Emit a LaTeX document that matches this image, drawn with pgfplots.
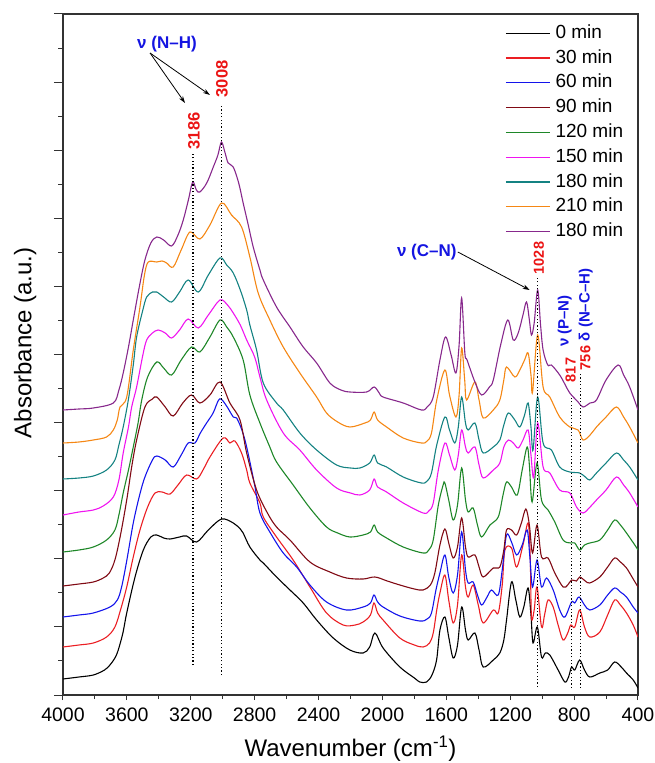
\documentclass[border=0pt]{standalone}
\usepackage{fontspec}
\setmainfont{Liberation Sans}
\usepackage{pgfplots}
\pgfplotsset{compat=1.18}
\usetikzlibrary{arrows.meta}

\definecolor{c0}{RGB}{0,0,0}
\definecolor{c30}{RGB}{235,30,35}
\definecolor{c60}{RGB}{20,20,235}
\definecolor{c90}{RGB}{128,10,20}
\definecolor{c120}{RGB}{30,135,40}
\definecolor{c150}{RGB}{240,20,240}
\definecolor{c180}{RGB}{20,130,130}
\definecolor{c210}{RGB}{245,135,20}
\definecolor{c180b}{RGB}{135,40,140}
\definecolor{annblue}{RGB}{20,20,225}
\definecolor{annred}{RGB}{235,20,20}

\newcommand{\numfont}{\bfseries\fontsize{14.5}{17}\selectfont}
\newcommand{\bignumfont}{\bfseries\fontsize{16.5}{19}\selectfont}
\newcommand{\lblfont}{\bfseries\fontsize{17}{20}\selectfont}
\newcommand{\smlblfont}{\bfseries\fontsize{15}{18}\selectfont}

\begin{document}
\begin{tikzpicture}
\begin{axis}[
  at={(0,0)}, anchor=south west,
  scale only axis, width=575pt, height=681pt,
  x dir=reverse, xmin=400, xmax=4000, ymin=0, ymax=681,
  xtick={400,800,...,4000}, minor x tick num=1,
  ytick={0,68.1,136.2,204.3,272.4,340.5,408.6,476.7,544.8,612.9,681},
  yticklabels={}, minor y tick num=1,
  tick pos=left, tick align=outside,
  xtick style={/pgfplots/major tick length=5pt, line width=1pt, black!80},
  minor x tick style={/pgfplots/minor tick length=4pt, line width=1pt, black!80},
  ytick style={/pgfplots/major tick length=9pt, line width=1pt, black!80},
  minor y tick style={/pgfplots/minor tick length=4.5pt, line width=1pt, black!80},
  axis line style={line width=1.1pt, black!80},
  /pgf/number format/1000 sep={},
  /pgf/number format/assume math mode=true,
  tick label style={font=\fontsize{19.5}{22}\selectfont},
  xticklabel style={yshift=-5pt},
  xlabel={Wavenumber (cm\textsuperscript{-1})},
  ylabel={Absorbance (a.u.)},
  label style={font=\fontsize{24}{27}\selectfont},
  xlabel style={at={(axis description cs:0.5,-0.091)}, anchor=base},
  ylabel style={at={(axis description cs:-0.0548,0.517)}, anchor=base},
  every axis plot/.append style={line width=1.1pt, smooth, tension=0.55},
  legend cell align=left,
  legend image code/.code={\draw[#1, line width=1.3pt, sharp plot] (0pt,0pt) -- (44pt,0pt);},
  legend style={draw=none, fill=none, at={(axis description cs:0.7687,0.986)},
    anchor=north west, font=\fontsize{19}{21}\selectfont,
    nodes={inner sep=1pt, text height=13.5pt, text depth=3.5pt},
    row sep=5.8pt, column sep=4pt, inner sep=0pt},
]
\addplot[c0] coordinates {
(4000,16) (3900,18) (3810,20) (3740,25) (3706,30) (3675,37) (3654,45) (3625,62)
(3601,82) (3549,118) (3497,145) (3450,158) (3413,160) (3370,157) (3330,156)
(3270,158) (3226,159) (3163,153) (3090,165) (3007,176) (2934,172) (2890,166)
(2872,162) (2830,148) (2767,135) (2746,132) (2663,118) (2579,105) (2496,92)
(2412,75) (2308,57) (2204,45) (2121,42) (2080,48) (2047,62) (1996,47) (1891,28)
(1800,17) (1766,13) (1724,13) (1690,20) (1661,35) (1640,65) (1609,78) (1585,58)
(1557,37) (1530,50) (1504,88) (1480,65) (1463,55) (1421,62) (1395,45) (1369,28)
(1306,35) (1265,42) (1240,55) (1223,75) (1192,113) (1165,95) (1140,78) (1115,88)
(1088,107) (1070,80) (1057,52) (1030,68) (1004,38) (980,42) (952,40) (900,25)
(858,13) (835,18) (816,28) (796,25) (765,35) (735,25) (702,18) (639,22) (590,25)
(546,33) (505,28) (472,22) (430,15) (400,7)};
\addlegendentry{0 min}
\addplot[c30] coordinates {
(4000,48) (3900,50) (3810,52) (3727,58) (3675,68) (3640,85) (3601,108) (3560,138)
(3518,165) (3470,188) (3424,202) (3380,203) (3330,201) (3280,210) (3226,220)
(3163,216) (3120,226) (3080,238) (2997,257) (2955,252) (2924,254) (2882,242)
(2850,225) (2830,212) (2767,192) (2746,178) (2663,158) (2559,135) (2454,108)
(2350,82) (2246,70) (2170,70) (2121,73) (2075,80) (2053,92) (2030,82) (1996,75)
(1891,57) (1800,50) (1745,48) (1705,52) (1682,62) (1660,85) (1640,102) (1609,120)
(1585,95) (1557,72) (1530,90) (1504,140) (1480,108) (1463,98) (1432,110) (1400,90)
(1369,72) (1306,85) (1275,82) (1250,110) (1233,145) (1192,147) (1160,128)
(1120,150) (1088,172) (1075,140) (1067,78) (1050,85) (1032,108) (1004,68) (985,80)
(963,95) (931,88) (900,70) (869,55) (840,62) (821,70) (796,68) (765,85) (735,68)
(702,58) (639,63) (590,80) (546,95) (510,90) (472,82) (430,70) (400,58)};
\addlegendentry{30 min}
\addplot[c60] coordinates {
(4000,78) (3900,80) (3810,82) (3706,88) (3660,95) (3633,108) (3600,135) (3560,172)
(3520,200) (3487,218) (3440,235) (3413,239) (3360,235) (3310,228) (3260,240)
(3216,252) (3174,252) (3140,262) (3101,272) (3060,282) (3020,296) (2980,290)
(2934,278) (2913,277) (2880,265) (2850,248) (2800,210) (2767,182) (2705,163)
(2621,142) (2537,128) (2454,110) (2350,93) (2225,85) (2121,88) (2075,92) (2053,100)
(2030,93) (1996,88) (1891,79) (1766,74) (1720,76) (1693,82) (1665,105) (1640,122)
(1609,140) (1585,118) (1557,102) (1530,120) (1504,163) (1480,125) (1463,112)
(1432,113) (1405,100) (1379,90) (1345,98) (1317,105) (1275,100) (1250,125)
(1223,160) (1192,153) (1160,140) (1125,150) (1094,165) (1078,140) (1060,108)
(1032,135) (1004,108) (973,117) (931,105) (890,85) (858,78) (816,93) (796,92)
(769,98) (735,90) (702,85) (639,90) (590,100) (546,107) (510,103) (472,98)
(430,88) (400,82)};
\addlegendentry{60 min}
\addplot[c90] coordinates {
(4000,109) (3900,111) (3810,113) (3748,117) (3710,122) (3675,135) (3640,160)
(3601,195) (3570,228) (3539,255) (3487,288) (3440,296) (3413,298) (3360,288)
(3310,279) (3250,292) (3195,300) (3143,292) (3080,300) (3017,313) (2955,292)
(2892,275) (2850,242) (2788,205) (2720,182) (2663,168) (2579,155) (2454,133)
(2329,123) (2225,117) (2120,116) (2047,118) (1970,114) (1891,110) (1800,106)
(1745,105) (1700,110) (1672,122) (1640,150) (1609,166) (1585,152) (1557,137)
(1530,148) (1504,177) (1480,148) (1463,138) (1421,140) (1395,128) (1369,118)
(1306,127) (1265,128) (1240,145) (1223,165) (1192,165) (1160,160) (1130,172)
(1102,186) (1080,170) (1060,142) (1032,170) (1004,138) (963,137) (921,122)
(869,108) (840,110) (816,115) (785,114) (765,118) (730,114) (702,112) (639,118)
(590,128) (546,137) (510,133) (472,127) (430,116) (400,108)};
\addlegendentry{90 min}
\addplot[c120] coordinates {
(4000,143) (3900,145) (3810,148) (3727,155) (3675,165) (3650,180) (3623,202)
(3590,225) (3560,248) (3530,272) (3507,295) (3470,318) (3413,333) (3370,327)
(3320,320) (3260,335) (3195,348) (3143,343) (3080,358) (3017,375) (2975,368)
(2934,358) (2872,335) (2830,300) (2767,272) (2705,248) (2663,233) (2559,210)
(2454,187) (2350,168) (2280,162) (2204,158) (2121,160) (2075,163) (2052,170)
(2030,163) (1974,157) (1870,148) (1745,142) (1710,145) (1682,155) (1650,190)
(1620,210) (1609,212) (1585,195) (1557,175) (1530,190) (1504,227) (1480,195)
(1463,183) (1432,187) (1405,170) (1379,158) (1327,170) (1275,178) (1245,200)
(1223,213) (1192,208) (1156,200) (1125,225) (1094,248) (1080,230) (1063,193)
(1032,232) (1004,195) (963,185) (921,173) (869,155) (821,152) (796,152) (765,145)
(735,150) (702,152) (639,155) (590,165) (546,175) (510,170) (472,162) (420,150)
(400,145)};
\addlegendentry{120 min}
\addplot[c150] coordinates {
(4000,180) (3900,183) (3810,185) (3748,189) (3685,198) (3650,215) (3623,242)
(3590,268) (3570,288) (3539,308) (3500,340) (3476,355) (3440,362) (3404,365)
(3360,362) (3320,357) (3270,365) (3216,376) (3153,367) (3090,380) (3017,395)
(2970,390) (2934,382) (2890,370) (2850,355) (2800,338) (2767,318) (2725,295)
(2621,262) (2517,245) (2412,225) (2287,207) (2200,202) (2141,200) (2080,205)
(2052,216) (2030,208) (1974,203) (1870,192) (1745,182) (1710,184) (1682,192)
(1650,225) (1609,252) (1580,240) (1547,225) (1525,240) (1504,265) (1480,248)
(1463,242) (1421,248) (1395,230) (1369,217) (1306,225) (1265,232) (1240,248)
(1212,255) (1181,252) (1150,247) (1120,255) (1088,265) (1070,240) (1053,218)
(1028,272) (994,228) (952,222) (890,205) (827,202) (785,188) (744,182) (700,188)
(660,195) (600,205) (535,218) (490,210) (452,202) (400,188)};
\addlegendentry{150 min}
\addplot[c180] coordinates {
(4000,216) (3900,217) (3810,219) (3727,225) (3675,235) (3650,250) (3623,268)
(3591,295) (3560,330) (3539,358) (3500,385) (3476,398) (3440,403) (3413,403)
(3370,398) (3320,393) (3270,403) (3216,415) (3153,403) (3090,420) (3017,437)
(2975,430) (2934,422) (2890,405) (2850,385) (2830,370) (2788,345) (2746,312)
(2663,292) (2621,285) (2517,262) (2412,245) (2287,230) (2200,227) (2141,227)
(2080,232) (2052,240) (2030,232) (1974,228) (1870,218) (1756,212) (1720,214)
(1693,222) (1660,250) (1609,278) (1580,265) (1547,252) (1525,268) (1504,298)
(1480,272) (1463,265) (1421,272) (1395,255) (1369,242) (1306,248) (1265,255)
(1240,270) (1212,282) (1171,275) (1140,268) (1110,280) (1088,292) (1070,268)
(1057,245) (1028,298) (994,252) (942,245) (890,228) (827,223) (765,222) (730,218)
(702,215) (660,222) (600,232) (535,242) (490,235) (452,228) (400,215)};
\addlegendentry{180 min}
\addplot[c210] coordinates {
(4000,252) (3900,253) (3810,255) (3727,258) (3685,265) (3660,275) (3643,288)
(3601,298) (3560,345) (3518,388) (3490,420) (3466,433) (3413,433) (3380,434)
(3351,432) (3310,428) (3260,445) (3205,463) (3143,456) (3080,470) (3007,492)
(2945,480) (2882,468) (2830,438) (2778,402) (2705,375) (2621,348) (2517,322)
(2412,298) (2350,282) (2280,273) (2204,268) (2110,272) (2075,275) (2052,283)
(2030,275) (1974,268) (1870,257) (1756,252) (1720,254) (1693,262) (1660,295)
(1609,325) (1580,300) (1540,278) (1520,300) (1504,347) (1485,315) (1473,295)
(1421,313) (1395,295) (1369,277) (1306,285) (1265,295) (1240,315) (1223,328)
(1171,318) (1140,325) (1110,335) (1088,342) (1070,320) (1060,303) (1028,360)
(994,308) (952,298) (890,278) (827,268) (775,265) (744,255) (700,260) (660,268)
(600,278) (535,288) (490,278) (452,268) (400,252)};
\addlegendentry{210 min}
\addplot[c180b] coordinates {
(4000,285) (3900,286) (3810,287) (3685,292) (3650,305) (3623,322) (3590,348)
(3560,375) (3520,410) (3487,435) (3450,452) (3413,458) (3370,455) (3320,449)
(3280,460) (3247,475) (3215,495) (3188,513) (3165,505) (3143,503) (3100,512)
(3059,528) (3030,540) (3008,553) (2985,542) (2966,532) (2934,528) (2900,512)
(2872,492) (2840,470) (2809,448) (2767,425) (2746,415) (2663,388) (2579,368)
(2496,348) (2412,332) (2329,312) (2260,305) (2204,303) (2099,303) (2052,308)
(2020,302) (1996,298) (1870,292) (1756,285) (1720,288) (1682,298) (1640,335)
(1605,358) (1570,340) (1540,322) (1520,350) (1504,397) (1484,342) (1470,335)
(1421,313) (1379,300) (1330,308) (1306,315) (1260,350) (1215,375) (1181,355)
(1150,362) (1120,380) (1098,393) (1080,375) (1067,360) (1050,372) (1028,405)
(1010,370) (994,345) (965,330) (942,330) (890,320) (855,310) (827,302) (775,293)
(744,288) (700,292) (660,295) (600,315) (525,330) (490,320) (452,308) (400,285)};
\addlegendentry{180 min}

% peak markers
\draw[line width=1.2pt, dash pattern=on 1.2pt off 2.2pt] (axis cs:3186,30) -- (axis cs:3186,542);
\draw[line width=1.2pt, dash pattern=on 1.2pt off 2.2pt] (axis cs:3008,20) -- (axis cs:3008,590);
\draw[line width=1.2pt, dash pattern=on 1.2pt off 2.2pt] (axis cs:1028,8) -- (axis cs:1028,417);
\draw[line width=1.2pt, dash pattern=on 1.2pt off 2.2pt] (axis cs:817,7) -- (axis cs:817,298);
\draw[line width=1.2pt, dash pattern=on 1.2pt off 2.2pt] (axis cs:760,7) -- (axis cs:760,322);

\node[rotate=90, text=annred, font=\bignumfont] at (axis cs:3180,564) {3186};
\node[rotate=90, text=annred, font=\bignumfont] at (axis cs:3005,616) {3008};
\node[rotate=90, text=annred, font=\numfont] at (axis cs:1021,437) {1028};
\node[rotate=90, text=annred, font=\numfont] at (axis cs:821,325) {817};
\node[rotate=90, text=annred, font=\numfont] at (axis cs:730,337) {756};
\node[rotate=90, text=annblue, font=\smlblfont] at (axis cs:858,374) {ν (P–N)};
\node[rotate=90, text=annblue, font=\smlblfont] at (axis cs:727,390) {δ (N–C–H)};

\node[text=annblue, font=\lblfont] at (axis cs:3349,651) {ν (N–H)};
\draw[line width=0.8pt, -{Stealth[length=7pt,width=4.5pt]}] (axis cs:3455,642) -- (axis cs:3236,592);
\draw[line width=0.8pt, -{Stealth[length=7pt,width=4.5pt]}] (axis cs:3455,642) -- (axis cs:3080,600);
\node[text=annblue, font=\lblfont] at (axis cs:1722,443) {ν (C–N)};
\draw[line width=0.8pt, -{Stealth[length=7pt,width=4.5pt]}] (axis cs:1528,443) -- (axis cs:1078,405);
\end{axis}
\pgfresetboundingbox
\path (-63pt,-68pt) rectangle (592pt,695pt);
\end{tikzpicture}
\end{document}
